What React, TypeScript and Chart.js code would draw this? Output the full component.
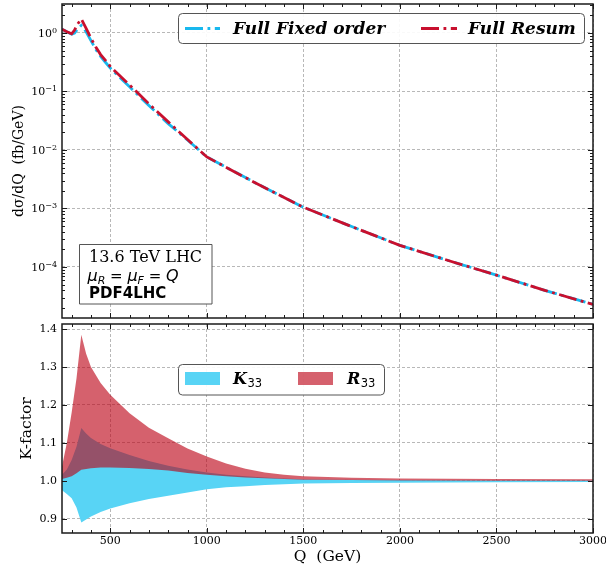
import React, { useEffect, useRef } from 'react';
import { Chart, registerables } from 'chart.js';

Chart.register(...registerables);

// ---------- data ----------
const qCurve = [250, 275, 300, 315, 330, 350, 375, 400, 425, 450, 475, 500, 600, 700, 800, 900, 1000, 1250, 1500, 1750, 2000, 2250, 2500, 2750, 3000];
const fullResum = [1.16, 1.05, 0.97, 1.12, 1.41, 1.74, 1.2, 0.81, 0.575, 0.427, 0.339, 0.266, 0.129, 0.0617, 0.0302, 0.0151, 0.00759, 0.00275, 0.00105, 4.9e-4, 2.34e-4, 1.29e-4, 7.24e-5, 3.98e-5, 2.29e-5];
const fullFixed = [1.16, 1.05, 0.95, 1.0, 1.15, 1.35, 1.05, 0.74, 0.525, 0.398, 0.316, 0.251, 0.12, 0.0575, 0.0282, 0.0148, 0.00759, 0.00275, 0.00105, 4.9e-4, 2.34e-4, 1.29e-4, 7.24e-5, 3.98e-5, 2.29e-5];

const qBand = [250, 275, 300, 325, 350, 375, 400, 450, 500, 600, 700, 800, 900, 1000, 1100, 1200, 1300, 1400, 1500, 1750, 2000, 2500, 3000];
const k33Lower = [0.975, 0.965, 0.954, 0.93, 0.89, 0.898, 0.906, 0.918, 0.927, 0.941, 0.952, 0.961, 0.969, 0.978, 0.983, 0.986, 0.989, 0.991, 0.993, 0.994, 0.995, 0.996, 0.997];
const k33Upper = [1.016, 1.03, 1.055, 1.09, 1.139, 1.125, 1.113, 1.097, 1.086, 1.068, 1.052, 1.04, 1.03, 1.022, 1.016, 1.012, 1.009, 1.006, 1.004, 1.003, 1.002, 1.001, 1.001];
const r33Lower = [1.005, 1.008, 1.012, 1.02, 1.029, 1.031, 1.033, 1.035, 1.035, 1.034, 1.031, 1.027, 1.021, 1.016, 1.012, 1.009, 1.007, 1.005, 1.003, 1.002, 1.001, 1.0, 1.0];
const r33Upper = [1.038, 1.1, 1.18, 1.27, 1.385, 1.335, 1.3, 1.258, 1.227, 1.178, 1.14, 1.112, 1.085, 1.064, 1.046, 1.032, 1.022, 1.016, 1.012, 1.008, 1.006, 1.005, 1.004];

const xTickValues = [500, 1000, 1500, 2000, 2500, 3000];
const xMinorValues = [300, 400, 600, 700, 800, 900, 1100, 1200, 1300, 1400, 1600, 1700, 1800, 1900, 2100, 2200, 2300, 2400, 2600, 2700, 2800, 2900];
const topYTicks = [1e-4, 1e-3, 1e-2, 1e-1, 1];
const topYExponents = ['\u22124', '\u22123', '\u22122', '\u22121', '0'];
const botYTicks = [0.9, 1.0, 1.1, 1.2, 1.3, 1.4];

const legendTop = ['Full Fixed order', 'Full Resum'];
const boxLines = ['13.6 TeV LHC', 'PDF4LHC'];

// ---------- styles ----------
const SERIF = '"DejaVu Serif", serif';
const SANS = '"DejaVu Sans", sans-serif';
const CYAN = '#18b8ee';
const RED = '#c8102e';
const CYAN_BAND = '#58d4f5';
const RED_BAND = 'rgba(188,0,20,0.62)';
const GRID = '#b0b0b0';
const DASHDOT = [18, 4.5, 2.8, 4.5];

function logMinor(min: number, max: number) {
  const out: number[] = [];
  for (let k = -6; k <= 1; k++) {
    for (let m = 2; m <= 9; m++) {
      const v = m * Math.pow(10, k);
      if (v > min && v < max) out.push(v);
    }
  }
  return out;
}

function makeFrame(yMajor: number[], yMinor: number[], logLabels: boolean) {
  return {
    id: 'frame',
    afterDraw(chart: any) {
      const { ctx, chartArea: a } = chart;
      const xs = chart.scales.x;
      const ys = chart.scales.y;
      ctx.save();
      ctx.strokeStyle = '#1a1a1a';
      ctx.lineWidth = 1;
      ctx.setLineDash([]);
      ctx.beginPath();
      const vt = (v: number, len: number) => {
        const p = Math.round(xs.getPixelForValue(v)) + 0.5;
        ctx.moveTo(p, a.top); ctx.lineTo(p, a.top + len);
        ctx.moveTo(p, a.bottom); ctx.lineTo(p, a.bottom - len);
      };
      const ht = (v: number, len: number) => {
        const p = Math.round(ys.getPixelForValue(v)) + 0.5;
        ctx.moveTo(a.left, p); ctx.lineTo(a.left + len, p);
        ctx.moveTo(a.right, p); ctx.lineTo(a.right - len, p);
      };
      xTickValues.forEach((v) => vt(v, 5));
      xMinorValues.forEach((v) => vt(v, 3));
      yMajor.forEach((v) => ht(v, 5));
      yMinor.forEach((v) => ht(v, 3));
      ctx.stroke();
      ctx.lineWidth = 1.5;
      ctx.strokeRect(a.left, a.top, a.right - a.left, a.bottom - a.top);

      if (logLabels) {
        ctx.fillStyle = '#000';
        ctx.textAlign = 'right';
        ctx.textBaseline = 'alphabetic';
        const xr = a.left - 5;
        yMajor.forEach((v, i) => {
          const p = ys.getPixelForValue(v);
          ctx.font = `8px ${SERIF}`;
          const e = topYExponents[i];
          ctx.fillText(e, xr, p);
          const ew = ctx.measureText(e).width;
          ctx.font = `11px ${SERIF}`;
          ctx.fillText('10', xr - ew, p + 4);
        });
      }
      ctx.restore();
    },
  };
}

const topOverlay = {
  id: 'topOverlay',
  afterDraw(chart: any) {
    const ctx = chart.ctx;
    ctx.save();
    ctx.setLineDash([]);
    // legend
    ctx.beginPath();
    ctx.roundRect(178.5, 13.5, 406, 30, 4);
    ctx.fillStyle = 'rgba(255,255,255,0.92)';
    ctx.fill();
    ctx.strokeStyle = '#555';
    ctx.lineWidth = 1;
    ctx.stroke();
    ctx.lineWidth = 2.8;
    ctx.lineCap = 'butt';
    ctx.setLineDash(DASHDOT);
    ctx.strokeStyle = CYAN;
    ctx.beginPath(); ctx.moveTo(185, 28.5); ctx.lineTo(220, 28.5); ctx.stroke();
    ctx.strokeStyle = RED;
    ctx.beginPath(); ctx.moveTo(421, 28.5); ctx.lineTo(457, 28.5); ctx.stroke();
    ctx.setLineDash([]);
    ctx.fillStyle = '#000';
    ctx.font = `italic bold 17px ${SERIF}`;
    ctx.textBaseline = 'alphabetic';
    ctx.fillText(legendTop[0], 233, 34);
    ctx.fillText(legendTop[1], 468, 34);

    // info box
    ctx.beginPath();
    ctx.rect(79.5, 244.5, 132.5, 59.5);
    ctx.fillStyle = '#fff';
    ctx.fill();
    ctx.strokeStyle = '#555';
    ctx.lineWidth = 1;
    ctx.stroke();
    ctx.fillStyle = '#000';
    ctx.font = `16px ${SERIF}`;
    ctx.fillText(boxLines[0], 89, 261.5);
    let x = 87.5;
    const base = 281;
    const put = (t: string, font: string, dy = 0) => {
      ctx.font = font;
      ctx.fillText(t, x, base + dy);
      x += ctx.measureText(t).width;
    };
    put('\u03BC', `italic 16px ${SANS}`);
    put('R', `italic 11px ${SANS}`, 3);
    put(' = ', `15px ${SANS}`);
    put('\u03BC', `italic 16px ${SANS}`);
    put('F', `italic 11px ${SANS}`, 3);
    put(' = ', `15px ${SANS}`);
    put('Q', `italic 16px ${SANS}`);
    ctx.font = `bold 15px ${SANS}`;
    ctx.fillText(boxLines[1], 89, 298.3);
    ctx.restore();
  },
};

const botOverlay = {
  id: 'botOverlay',
  afterDraw(chart: any) {
    const ctx = chart.ctx;
    const oy = 321;
    ctx.save();
    ctx.setLineDash([]);
    ctx.beginPath();
    ctx.roundRect(178.5, 364.5 - oy, 206, 30.5, 4);
    ctx.fillStyle = 'rgba(255,255,255,0.92)';
    ctx.fill();
    ctx.strokeStyle = '#555';
    ctx.lineWidth = 1;
    ctx.stroke();
    ctx.fillStyle = CYAN_BAND;
    ctx.fillRect(185, 372 - oy, 35, 13);
    ctx.fillStyle = RED_BAND;
    ctx.fillRect(298, 372 - oy, 35, 13);
    ctx.fillStyle = '#000';
    ctx.textBaseline = 'alphabetic';
    const lab = (letter: string, x0: number) => {
      ctx.font = `italic bold 16px ${SERIF}`;
      ctx.fillText(letter, x0, 383.5 - oy);
      const w = ctx.measureText(letter).width;
      ctx.font = `11.5px ${SANS}`;
      ctx.fillText('33', x0 + w + 0.5, 387 - oy);
    };
    lab('K', 233);
    lab('R', 347);
    ctx.restore();
  },
};

const tickFont = { family: SERIF, size: 11 };

export default function App() {
  const topRef = useRef<HTMLCanvasElement>(null);
  const botRef = useRef<HTMLCanvasElement>(null);

  useEffect(() => {
    const yMinTop = 1.34e-5;
    const yMaxTop = 3.13;
    const top = new Chart(topRef.current as HTMLCanvasElement, {
      type: 'line',
      data: {
        datasets: [
          {
            label: legendTop[1],
            data: qCurve.map((x, i) => ({ x, y: fullResum[i] })),
            borderColor: RED,
            borderWidth: 2.8,
            borderDash: DASHDOT,
            borderCapStyle: 'butt',
            pointRadius: 0,
            fill: false,
            tension: 0,
          },
          {
            label: legendTop[0],
            data: qCurve.map((x, i) => ({ x, y: fullFixed[i] })),
            borderColor: CYAN,
            borderWidth: 2.8,
            borderDash: DASHDOT,
            borderCapStyle: 'butt',
            pointRadius: 0,
            fill: false,
            tension: 0,
          },
        ],
      },
      options: {
        responsive: false,
        animation: false,
        events: [],
        layout: { padding: { left: 0, right: 13, top: 4, bottom: 3 } },
        plugins: { legend: { display: false }, tooltip: { enabled: false } },
        scales: {
          x: {
            type: 'linear',
            min: 250,
            max: 3000,
            afterBuildTicks: (s: any) => { s.ticks = xTickValues.map((v) => ({ value: v })); },
            ticks: { display: false },
            grid: { drawTicks: false, color: GRID, lineWidth: 0.9 },
            border: { display: false, dash: [3, 2] },
            afterFit: (s: any) => { s.height = 0; s.paddingLeft = 0; s.paddingRight = 0; },
          },
          y: {
            type: 'logarithmic',
            min: yMinTop,
            max: yMaxTop,
            afterBuildTicks: (s: any) => { s.ticks = topYTicks.map((v) => ({ value: v })); },
            ticks: { display: false },
            grid: { drawTicks: false, color: GRID, lineWidth: 0.9 },
            border: { display: false, dash: [3, 2] },
            title: { display: true, text: 'd\u03C3/dQ  (fb/GeV)', color: '#000', font: { family: SERIF, size: 14 }, padding: { top: 11, bottom: 0 } },
            afterFit: (s: any) => { s.width = 62; s.paddingTop = 0; s.paddingBottom = 0; },
          },
        },
      } as any,
      plugins: [makeFrame(topYTicks, logMinor(yMinTop, yMaxTop), true), topOverlay],
    });

    const bandDs = (data: number[], fill: any, color: string) => ({
      data: qBand.map((x, i) => ({ x, y: data[i] })),
      borderWidth: 0,
      borderColor: 'rgba(0,0,0,0)',
      backgroundColor: color,
      pointRadius: 0,
      fill,
      tension: 0,
    });

    const bot = new Chart(botRef.current as HTMLCanvasElement, {
      type: 'line',
      data: {
        datasets: [
          bandDs(r33Lower, false, RED_BAND),
          bandDs(r33Upper, '-1', RED_BAND),
          bandDs(k33Lower, false, CYAN_BAND),
          bandDs(k33Upper, '-1', CYAN_BAND),
        ],
      },
      options: {
        responsive: false,
        animation: false,
        events: [],
        layout: { padding: { left: 0, right: 13, top: 3, bottom: 0 } },
        plugins: { legend: { display: false }, tooltip: { enabled: false } },
        scales: {
          x: {
            type: 'linear',
            min: 250,
            max: 3000,
            z: 1,
            afterBuildTicks: (s: any) => { s.ticks = xTickValues.map((v) => ({ value: v })); },
            ticks: { padding: 2, color: '#000', font: tickFont, autoSkip: false, maxRotation: 0, callback: (v: any) => String(v) },
            grid: { drawTicks: false, color: GRID, lineWidth: 0.9 },
            border: { display: false, dash: [3, 2] },
            title: { display: true, text: 'Q  (GeV)', color: '#000', font: { family: SERIF, size: 15.5 }, padding: { top: 0, bottom: 1 } },
            afterFit: (s: any) => { s.height = 34; s.paddingLeft = 0; s.paddingRight = 0; },
          },
          y: {
            type: 'linear',
            min: 0.8625,
            max: 1.4135,
            z: 1,
            afterBuildTicks: (s: any) => { s.ticks = botYTicks.map((v) => ({ value: v })); },
            ticks: { padding: 5, color: '#000', font: tickFont, callback: (v: any) => Number(v).toFixed(1) },
            grid: { drawTicks: false, color: GRID, lineWidth: 0.9 },
            border: { display: false, dash: [3, 2] },
            title: { display: true, text: 'K-factor', color: '#000', font: { family: SERIF, size: 15.5 }, padding: { top: 18, bottom: 0 } },
            afterFit: (s: any) => { s.width = 62; s.paddingTop = 0; s.paddingBottom = 0; },
          },
        },
      } as any,
      plugins: [makeFrame(botYTicks, [], false), botOverlay],
    });

    return () => {
      top.destroy();
      bot.destroy();
    };
  }, []);

  return (
    <div style={{ position: 'absolute', left: 0, top: 0, width: 606, height: 567, background: '#fff', overflow: 'hidden' }}>
      <canvas ref={topRef} width={606} height={321} style={{ position: 'absolute', left: 0, top: 0, display: 'block' }} />
      <canvas ref={botRef} width={606} height={246} style={{ position: 'absolute', left: 0, top: 321, display: 'block' }} />
    </div>
  );
}
